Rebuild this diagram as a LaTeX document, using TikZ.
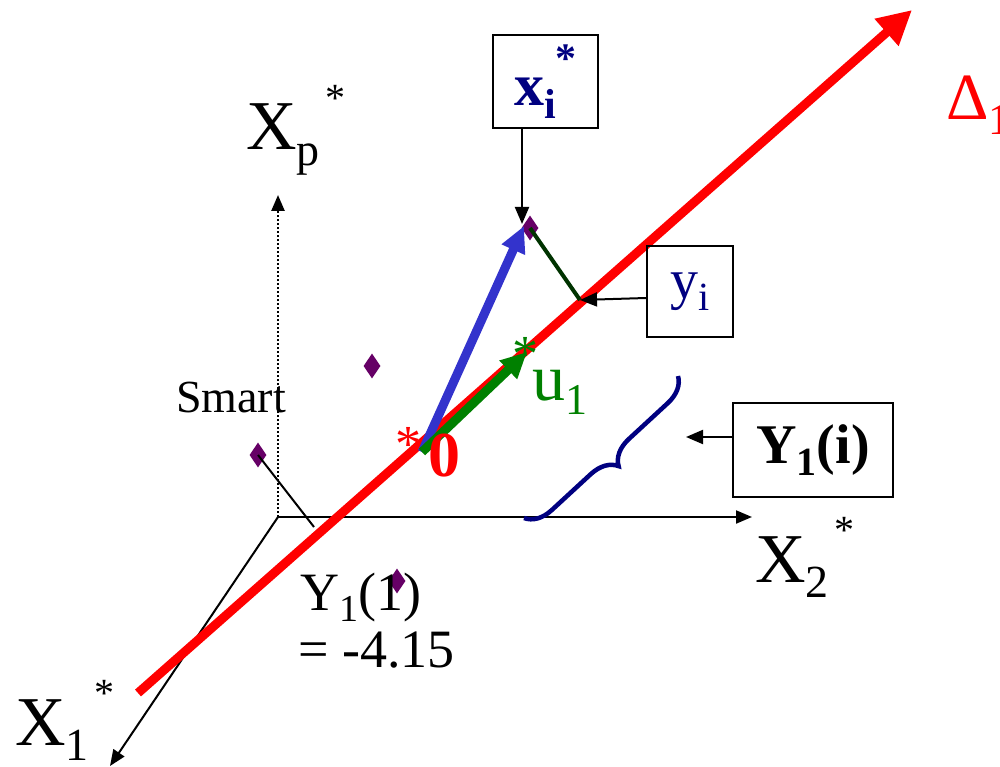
\documentclass[tikz,border=0pt]{standalone}
\usepackage{fontspec}
\setmainfont{Liberation Serif}
\usetikzlibrary{arrows.meta,shapes.geometric,decorations.pathreplacing}
\newcommand{\fs}[1]{\fontsize{#1}{#1}\selectfont}
\newcommand{\mysub}[2]{\raisebox{-0.22em}{\fs{#1}#2}}
\newcommand{\mysup}[2]{\raisebox{0.55em}{\fs{#1}#2}}
\definecolor{pt}{HTML}{660066}
\definecolor{navyc}{HTML}{000080}
\definecolor{bluev}{HTML}{3333CC}
\definecolor{greenv}{HTML}{008000}
\definecolor{dgreen}{HTML}{003300}
\tikzset{
  ax/.style={draw=black, line width=2pt, -{Triangle[length=16pt,width=13pt]}},
  pointer/.style={draw=black, line width=2pt, -{Triangle[length=17pt,width=14pt]}},
  dat/.style={diamond, fill=pt, minimum width=17pt, minimum height=25pt, inner sep=0pt},
  lbl/.style={inner sep=0pt, anchor=base west},
  boxn/.style={draw=black, line width=2pt, inner sep=0pt},
}
\begin{document}
\begin{tikzpicture}[x=1pt,y=-1pt]
\useasboundingbox (0,0) rectangle (1000,767);
\clip (0,0) rectangle (1000,767);
% axes
\coordinate (O) at (278,517);
\coordinate (Xpend) at (278,195);
\coordinate (X2end) at (752,517);
\coordinate (X1end) at (110,766);
\draw[ax, dotted, line width=2.5pt] (O) -- (Xpend);
\draw[ax] (O) -- (X2end);
\draw[ax] (O) -- (X1end);
% axis labels
\node[lbl] (Xp) at (246,150) {\fs{70}X\mysub{46}{p}\hspace{6pt}\mysup{40}{*}};
\node[lbl] (X2) at (755,582) {\fs{70}X\mysub{46}{2}\hspace{6pt}\mysup{40}{*}};
\node[lbl] (X1) at (15,745) {\fs{70}X\mysub{46}{1}\hspace{6pt}\mysup{40}{*}};
% red line
\coordinate (Rs) at (138,693);
\coordinate (Re) at (912,10);
\draw[red, line width=9pt, -{Triangle[length=34pt,width=34pt]}] (Rs) -- (Re);
\node[lbl, red] (Delta) at (946,120) {\fs{66}Δ\mysub{44}{1}};
% data points
\node[dat] (d1) at (530,228) {};
\node[dat] (d2) at (372,366) {};
\node[dat] (d3) at (258,455) {};
\node[dat] (d4) at (397,581) {};
% origin and vectors
\coordinate (Z) at (422,452);
\coordinate (P) at (580,300);
\draw[dgreen, line width=4pt] (d1.center) -- (P);
\draw[bluev, line width=9pt, -{Triangle[length=26pt,width=24pt]}] (Z) -- (524,226);
\draw[greenv, line width=9pt, -{Triangle[length=26pt,width=24pt]}] (Z) -- (527,352);
\node[red, inner sep=0pt] (star0) at (408,444) {\fs{52}*};
\node[greenv, inner sep=0pt] (star1) at (525,354) {\fs{52}*};
\node[lbl, red] (zero) at (428,476) {\fs{64}\bfseries 0};
\node[lbl, greenv] (u1) at (532,400) {\fs{66}u\mysub{44}{1}};
% smart
\node[lbl] (smart) at (176,412) {\fs{46}Smart};
\coordinate (sm) at (314,527);
\draw[line width=2pt] (d3.center) -- (sm);
\node[lbl] (y11) at (300,610) {\fs{54}Y\mysub{38}{1}(1)};
\node[lbl] (val) at (298,667) {\fs{54}= -4.15};
% x_i box
\node[boxn, minimum width=105pt, minimum height=93pt] (xi) at (545.5,81.5) {\fs{60}\color{navyc}\bfseries x\mysub{42}{i}\mysup{42}{*}};
\draw[pointer] (xi.south -| 522,0) -- (522,224);
% y_i box
\node[boxn, minimum width=86pt, minimum height=91pt] (yi) at (690,291.5) {\fs{56}\color{navyc}y\mysub{40}{i}};
\draw[pointer] (yi.west |- 0,298) -- (P);
% brace
\draw[navyc, line width=4.5pt, decorate, decoration={brace, mirror, amplitude=26pt, aspect=0.5}] (524,518) -- (678,376);
% Y1(i) box
\node[boxn, minimum width=160pt, minimum height=94pt] (Yi) at (813,450) {\fs{56}\bfseries Y\mysub{40}{1}(i)};
\draw[pointer] (Yi.west |- 0,437) -- (686,437);
\end{tikzpicture}
\end{document}
